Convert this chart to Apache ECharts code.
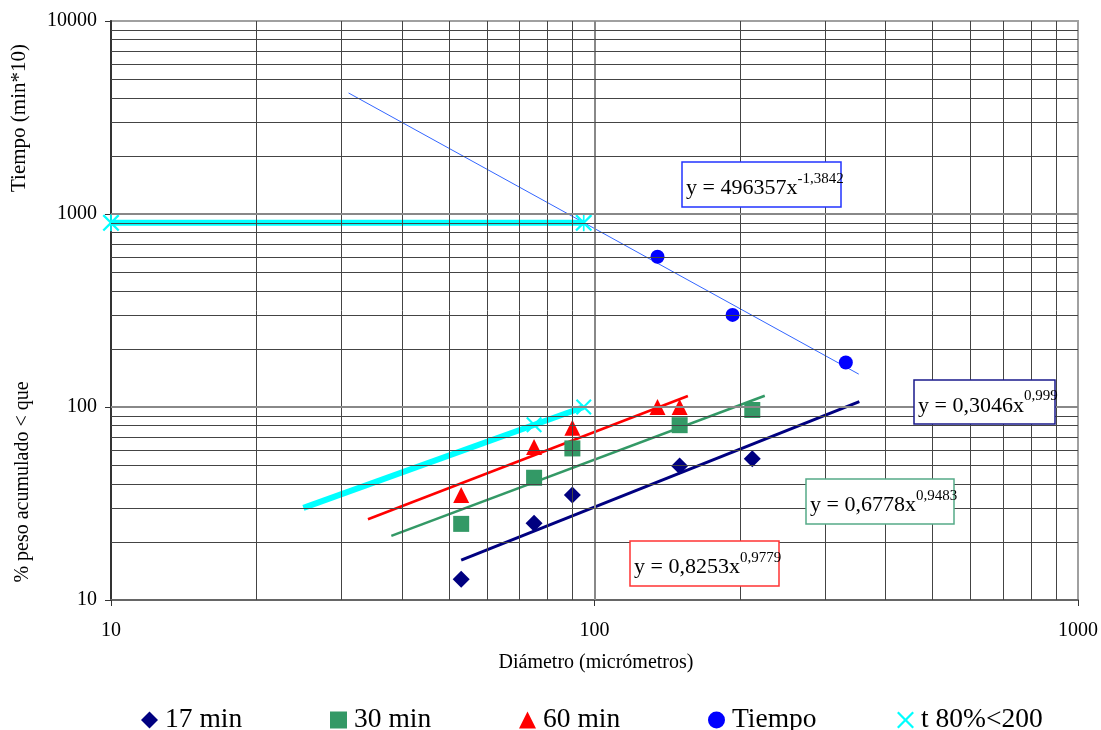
<!DOCTYPE html>
<html><head><meta charset="utf-8">
<script src="https://cdn.jsdelivr.net/npm/echarts@6/dist/echarts.min.js"></script>
<style>html,body{margin:0;padding:0;background:#fff}#c{width:1101px;height:730px}</style>
</head><body><div id="c"></div>
<script>
// ---- data ----
const diam17 = [53, 75, 90, 150, 212];
const pct17  = [12.8, 25, 35, 49.5, 54];
const diam30 = [53, 75, 90, 150, 212];
const pct30  = [24.8, 43, 61, 80.5, 96.5];
const diam60 = [53, 75, 90, 135, 150];
const pct60  = [35, 62, 78, 100, 100];
const diamTiempo = [135, 193, 331];
const tiempo     = [600, 300, 170];
const diamT80 = [10, 95];
const tT80    = [900, 900];
const diamT80b = [75, 95];
const pctT80b  = [81, 100];
// trendline end points (x, y)
const trend17X = [53, 353],  trend17Y = [16.1, 106.5];
const trend30X = [38, 225],  trend30Y = [21.5, 114.4];
const trend60X = [34, 156],  trend60Y = [26.2, 114];
const trendTX  = [31, 352],  trendTY  = [4236, 148];
const trendCX  = [25, 95],   trendCY  = [30, 100];
const eq17 = ['y = 0,3046x', '0,999'];
const eq30 = ['y = 0,6778x', '0,9483'];
const eq60 = ['y = 0,8253x', '0,9779'];
const eqT  = ['y = 496357x', '-1,3842'];
const legendNames = ['17 min', '30 min', '60 min', 'Tiempo', 't 80%<200'];
const xDecades = [10, 100];
const yDecades = [10, 100, 1000];
const xMajor = [100];
const yMajor = [100, 1000];

const FONT = "'Liberation Serif','Times New Roman',serif";
const zip = (a, b) => a.map((v, i) => [v, b[i]]);
const minors = ds => { const r = []; ds.forEach(d => { for (let k = 2; k <= 9; k++) r.push(d * k); }); return r; };

const XPATH = 'path://M0,1.5L1.5,0L8,6.5L14.5,0L16,1.5L9.5,8L16,14.5L14.5,16L8,9.5L1.5,16L0,14.5L6.5,8Z';
const STAR = 'path://M0,1.5L1.5,0L8,6.5L14.5,0L16,1.5L9.5,8L16,14.5L14.5,16L8,9.5L1.5,16L0,14.5L6.5,8Z M7.2,0L8.8,0L8.8,16L7.2,16Z';
const legendIcons = ['diamond', 'rect', 'triangle', 'circle', XPATH];
const legendLeft = [136, 325, 514, 703, 892];

const minorStyle = {color: '#444', width: 1, type: 'solid'};
const majorStyle = {color: '#888', width: 2, type: 'solid'};
const gridLines = []
  .concat(minors(xDecades).map(v => ({xAxis: v, lineStyle: minorStyle})))
  .concat(xMajor.map(v => ({xAxis: v, lineStyle: majorStyle})))
  .concat(minors(yDecades).map(v => ({yAxis: v, lineStyle: minorStyle})))
  .concat(yMajor.map(v => ({yAxis: v, lineStyle: majorStyle})));

const chart = echarts.init(document.getElementById('c'), null, {renderer: 'canvas'});

function eqBox(x, y, w, h, color, eq) {
  return {
    type: 'group', x: x, y: y, z: 100,
    children: [
      {type: 'rect', z: 100, shape: {x: 0, y: 0, width: w, height: h},
       style: {fill: '#fff', stroke: color, lineWidth: 1.5}},
      {type: 'text', z: 101, x: 4, y: h / 2 + 1,
       style: {text: '{m|' + eq[0] + '}{s|' + eq[1] + '}', verticalAlign: 'middle', align: 'left',
         rich: {
           m: {fontSize: 22, fontFamily: FONT, fill: '#000', lineHeight: 28, verticalAlign: 'bottom'},
           s: {fontSize: 15, fontFamily: FONT, fill: '#000', lineHeight: 18, verticalAlign: 'top'}
         }}}
    ]
  };
}
const plain = v => String(Math.round(v));

const legends = legendNames.map((n, i) => ({
  left: legendLeft[i], top: 701, itemWidth: 17, itemHeight: 17, selectedMode: false,
  textStyle: {fontSize: 27.5, fontFamily: FONT, color: '#000', padding: [0, 0, 0, 2]},
  data: [{name: n, icon: legendIcons[i]}]
}));

const option = {
  animation: false,
  backgroundColor: '#fff',
  grid: {left: 111, top: 21, width: 967, height: 579, show: true, borderColor: '#a0a0a0', borderWidth: 2, backgroundColor: 'transparent'},
  xAxis: {
    type: 'log', logBase: 10, min: 10, max: 1000,
    axisLine: {lineStyle: {color: '#666', width: 2}},
    axisTick: {show: true, length: 6, lineStyle: {color: '#333', width: 1}},
    axisLabel: {fontSize: 20, fontFamily: FONT, color: '#000', margin: 21, formatter: plain},
    splitLine: {show: false}
  },
  yAxis: {
    type: 'log', logBase: 10, min: 10, max: 10000,
    axisLine: {show: true, lineStyle: {color: '#333', width: 2}},
    axisTick: {show: true, length: 6, lineStyle: {color: '#333', width: 1}},
    axisLabel: {fontSize: 20, fontFamily: FONT, color: '#000', margin: 14, formatter: plain},
    splitLine: {show: false}
  },
  legend: legends,
  series: [
    {type: 'scatter', name: 'grid', data: [], silent: true, z: 1,
     markLine: {silent: true, symbol: ['none', 'none'], label: {show: false}, animation: false, data: gridLines}},
    {type: 'line', name: 'tr17', data: zip(trend17X, trend17Y), showSymbol: false, symbol: 'none', z: 3,
     lineStyle: {color: '#000080', width: 3}, silent: true},
    {type: 'line', name: 'tr30', data: zip(trend30X, trend30Y), showSymbol: false, symbol: 'none', z: 3,
     lineStyle: {color: '#339966', width: 2.5}, silent: true},
    {type: 'line', name: 'tr60', data: zip(trend60X, trend60Y), showSymbol: false, symbol: 'none', z: 3,
     lineStyle: {color: '#ff0000', width: 2.5}, silent: true},
    {type: 'line', name: 'trT', data: zip(trendTX, trendTY), showSymbol: false, symbol: 'none', z: 3,
     lineStyle: {color: '#3366ff', width: 1}, silent: true},
    {type: 'line', name: 'trC', data: zip(trendCX, trendCY), showSymbol: false, symbol: 'none', z: 3,
     lineStyle: {color: '#00ffff', width: 6}, silent: true},
    {type: 'scatter', name: '17 min', data: zip(diam17, pct17), symbol: 'diamond', symbolSize: 17, z: 4,
     itemStyle: {color: '#000080', opacity: 1}},
    {type: 'scatter', name: '30 min', data: zip(diam30, pct30), symbol: 'rect', symbolSize: 16, z: 4,
     itemStyle: {color: '#339966', opacity: 1}},
    {type: 'scatter', name: '60 min', data: zip(diam60, pct60), symbol: 'triangle', symbolSize: 16, z: 4,
     itemStyle: {color: '#ff0000', opacity: 1}},
    {type: 'scatter', name: 'Tiempo', data: zip(diamTiempo, tiempo), symbol: 'circle', symbolSize: 14, z: 4,
     itemStyle: {color: '#0000ff', opacity: 1}},
    {type: 'line', name: 't 80%<200', data: zip(diamT80, tT80), symbol: STAR, symbolSize: 17, showSymbol: true, z: 4,
     clip: false, lineStyle: {color: '#00ffff', width: 6}, itemStyle: {color: '#00ffff', opacity: 1}},
    {type: 'scatter', name: 'c80b', data: zip(diamT80b, pctT80b), symbol: XPATH, symbolSize: 16, z: 4,
     itemStyle: {color: '#00ffff', opacity: 1}}
  ],
  graphic: [
    eqBox(682, 162, 159, 45, '#2233ff', eqT),
    eqBox(914, 380, 141, 44, '#1a1a8c', eq17),
    eqBox(806, 479, 148, 45, '#55aa88', eq30),
    eqBox(630, 541, 149, 45, '#ff3333', eq60),
    {type: 'text', x: 596, y: 663, z: 100,
     style: {text: 'Diámetro (micrómetros)', fontSize: 20, fontFamily: FONT, fill: '#000', align: 'center', verticalAlign: 'middle'}},
    {type: 'text', x: 23, y: 482, rotation: Math.PI / 2, z: 100,
     style: {text: '% peso acumulado < que', fontSize: 20, fontFamily: FONT, fill: '#000', align: 'center', verticalAlign: 'middle'}},
    {type: 'text', x: 19, y: 118, rotation: Math.PI / 2, z: 100,
     style: {text: 'Tiempo (min*10)', fontSize: 21, fontFamily: FONT, fill: '#000', align: 'center', verticalAlign: 'middle'}}
  ]
};
chart.setOption(option);
</script>
</body></html>
